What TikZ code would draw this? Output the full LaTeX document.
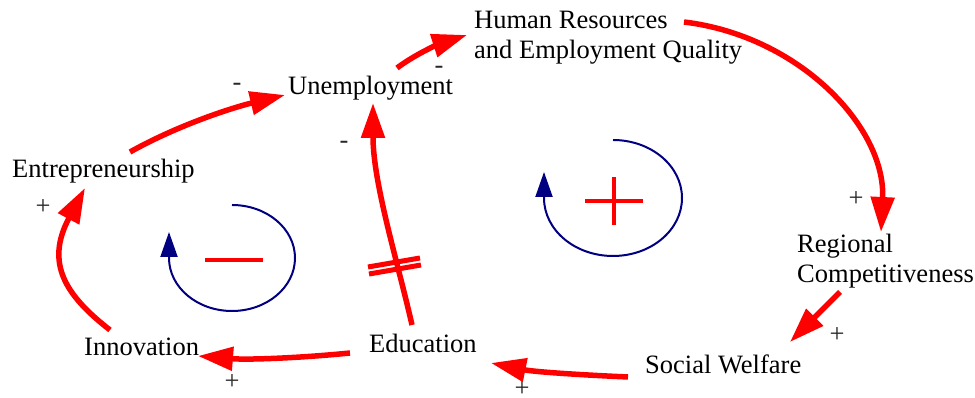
\documentclass[tikz,border=0pt]{standalone}
\usepackage{fontspec}
\setmainfont{Liberation Serif}
\usetikzlibrary{arrows.meta,calc}
\definecolor{loopblue}{RGB}{0,0,128}
\begin{document}
\begin{tikzpicture}[x=1pt,y=1pt,
  lbl/.style={inner sep=0pt, font=\fontsize{26.5}{30}\selectfont},
  sgn/.style={inner sep=0pt, font=\fontsize{26.5}{30}\selectfont, text=black!85},
  link/.style={draw=red, line width=5.5pt, -{Triangle[length=35pt,width=23pt]}},
  delaymark/.style={draw=red, line width=5pt},
  loopline/.style={draw=loopblue, line width=2pt, -{Triangle[length=25pt,width=17pt]}},
  polarity/.style={draw=red, line width=4pt}]
\useasboundingbox (0,0) rectangle (975,398);

% variables
\node[lbl,anchor=base west] (innov) at (84,42) {Innovation};
\node[lbl,anchor=base west] (educ) at (369,45) {Education};
\node[lbl,anchor=base west] (social) at (645,24) {Social Welfare};
\node[lbl,anchor=base west] (entre) at (12,220) {Entrepreneurship};
\node[lbl,anchor=base west] (unemp) at (288,303) {Unemployment};
\node[lbl,anchor=north west,align=left] (hr) at (474,387) {Human Resources\\and Employment Quality};
\node[lbl,anchor=north west,align=left] (reg) at (797,164) {Regional\\Competitiveness};

% polarity signs
\node[sgn] (p1) at (43,191) {+};
\node[sgn] (m1) at (237,311) {-};
\node[sgn] (m2) at (439,328) {-};
\node[sgn] (m3) at (344,253) {-};
\node[sgn] (p2) at (856,199) {+};
\node[sgn] (p3) at (837,63) {+};
\node[sgn] (p4) at (522,9) {+};
\node[sgn] (p5) at (232,16) {+};

% causal links
\draw[link] ($(innov.base west)+(26,26)$) .. controls +(-45,35) and +(-40,-75) .. ($(entre.base west)+(73,-10)$);
\draw[link] ($(entre.base west)+(118,26)$) .. controls +(50,28) and +(-50,-12) .. ($(unemp.base west)+(-3,0)$);
\draw[link] ($(unemp.base west)+(109,27)$) .. controls +(20,15) and +(-25,-8) .. ($(hr.north west)+(-7,-24)$);
\draw[link] ($(hr.north west)+(210,-11)$) .. controls +(116,-14) and +(5,104) .. ($(reg.north west)+(84,2)$);
\draw[link] ($(reg.north west)+(43,-58)$) -- ($(social.base west)+(145,32)$);
\draw[link] ($(social.base west)+(-17,-3)$) .. controls +(-45,2) and +(44,-9) .. ($(educ.base west)+(122,-10)$);
\draw[link] ($(educ.base west)+(-19,0)$) .. controls +(-50,-5) and +(50,-4) .. ($(innov.base west)+(114,0)$);
\draw[link] ($(educ.base west)+(43,28)$) .. controls +(-14,62) and +(0,-80) .. ($(unemp.base west)+(85,-8)$);

% delay marks
\draw[delaymark] (368,131) -- (420,140);
\draw[delaymark] (369,124) -- (421,133);

% loop symbols
\draw[loopline] (232,193) arc[start angle=90,end angle=-180,x radius=63,y radius=53] -- ++(0,26);
\draw[loopline] (613,258) arc[start angle=90,end angle=-180,x radius=69,y radius=58] -- ++(0,26);
\draw[polarity] (205,138) -- (263,138);
\draw[polarity] (585,197) -- (643,197) (614,221) -- (614,173);
\end{tikzpicture}
\end{document}
